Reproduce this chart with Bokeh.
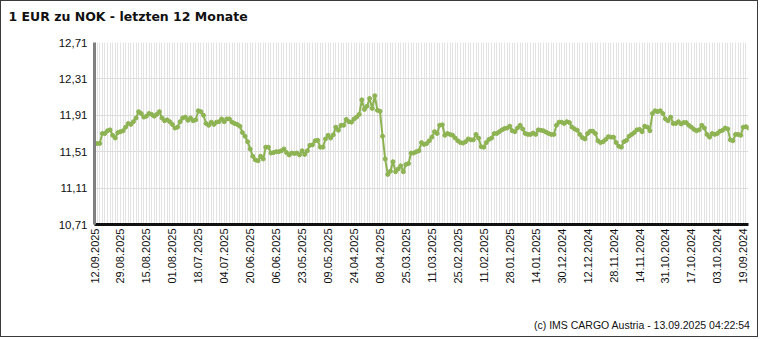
from bokeh.plotting import figure
from bokeh.models import Range1d, FixedTicker, Title, ColumnDataSource
from bokeh.embed import file_html
from bokeh.resources import INLINE
import math

title_text = "1 EUR zu NOK - letzten 12 Monate"
footer_text = "(c) IMS CARGO Austria - 13.09.2025 04:22:54"

date_labels = ["12.09.2025", "29.08.2025", "15.08.2025", "01.08.2025", "18.07.2025",
               "04.07.2025", "20.06.2025", "06.06.2025", "23.05.2025", "09.05.2025",
               "24.04.2025", "08.04.2025", "25.03.2025", "11.03.2025", "25.02.2025",
               "11.02.2025", "28.01.2025", "14.01.2025", "30.12.2024", "12.12.2024",
               "28.11.2024", "14.11.2024", "31.10.2024", "17.10.2024", "03.10.2024",
               "19.09.2024"]
label_step = 10

y_ticks = [10.71, 11.11, 11.51, 11.91, 12.31, 12.71]
y_tick_labels = ["10,71", "11,11", "11,51", "11,91", "12,31", "12,71"]

rates = [
    11.60, 11.60, 11.60, 11.71, 11.71, 11.74, 11.75, 11.69, 11.66, 11.72,
    11.73, 11.74, 11.78, 11.82, 11.81, 11.84, 11.88, 11.95, 11.93, 11.89,
    11.90, 11.93, 11.92, 11.90, 11.92, 11.95, 11.88, 11.85, 11.86, 11.84,
    11.81, 11.77, 11.78, 11.84, 11.88, 11.89, 11.855, 11.88, 11.85, 11.86,
    11.96, 11.95, 11.91, 11.82, 11.80, 11.835, 11.81, 11.835, 11.84, 11.87,
    11.84, 11.87, 11.87, 11.835, 11.82, 11.81, 11.79, 11.72, 11.68, 11.62,
    11.54, 11.46, 11.42, 11.41, 11.46, 11.43, 11.56, 11.56, 11.495, 11.50,
    11.51, 11.51, 11.52, 11.54, 11.50, 11.475, 11.495, 11.49, 11.495, 11.475,
    11.52, 11.48, 11.52, 11.58, 11.585, 11.63, 11.635, 11.56, 11.56, 11.65,
    11.69, 11.66, 11.695, 11.78, 11.745, 11.80, 11.80, 11.865, 11.84, 11.835,
    11.87, 11.89, 11.92, 12.08, 11.975, 12.01, 12.095, 11.985, 12.125, 11.965,
    11.955, 11.68, 11.43, 11.26, 11.295, 11.40, 11.29, 11.32, 11.355, 11.29,
    11.37, 11.38, 11.495, 11.495, 11.51, 11.52, 11.61, 11.59, 11.60, 11.63,
    11.67, 11.73, 11.71, 11.80, 11.805, 11.69, 11.71, 11.70, 11.69, 11.66,
    11.63, 11.61, 11.605, 11.62, 11.65, 11.64, 11.64, 11.70, 11.66, 11.565,
    11.56, 11.61, 11.645, 11.66, 11.71, 11.71, 11.73, 11.75, 11.765, 11.77,
    11.79, 11.74, 11.73, 11.77, 11.80, 11.76, 11.71, 11.70, 11.70, 11.715,
    11.70, 11.75, 11.745, 11.74, 11.725, 11.71, 11.70, 11.70, 11.80, 11.835,
    11.835, 11.82, 11.84, 11.83, 11.78, 11.76, 11.745, 11.70, 11.665, 11.65,
    11.71, 11.735, 11.735, 11.71, 11.63, 11.61, 11.62, 11.645, 11.675, 11.67,
    11.67, 11.61, 11.57, 11.56, 11.62, 11.635, 11.68, 11.70, 11.72, 11.75,
    11.755, 11.73, 11.79, 11.78, 11.74, 11.93, 11.96, 11.95, 11.96, 11.93,
    11.87, 11.85, 11.89, 11.82, 11.82, 11.84, 11.815, 11.83, 11.83, 11.80,
    11.78, 11.755, 11.74, 11.75, 11.80, 11.77, 11.70, 11.67, 11.71, 11.70,
    11.71, 11.735, 11.745, 11.77, 11.76, 11.64, 11.63, 11.70, 11.70, 11.69,
    11.78, 11.785, 11.77,
]

idx = list(range(len(rates)))
src = ColumnDataSource(dict(x=idx, y=rates))

W, H = 758, 337
p = figure(width=W, height=H, output_backend="svg", toolbar_location=None,
           x_range=Range1d(0, len(rates) - 1), y_range=Range1d(y_ticks[0], y_ticks[-1]),
           min_border_left=93, min_border_right=11, min_border_top=41, min_border_bottom=114,
           background_fill_color="white", border_fill_color="white",
           styles={"border": "1px solid #3a3a3a"})
p.outline_line_color = None

p.title.text = title_text
p.title.text_font = "DejaVu Sans"
p.title.text_font_style = "bold"
p.title.text_font_size = "12.5px"
p.title.text_color = "#111111"
p.title.align = "left"
p.title.offset = -86
p.title.standoff = 4

# invisible spacers that push title / footer to their places
p.add_layout(Title(text=" ", text_font_size="1px", standoff=14), "above")
p.add_layout(Title(text=" ", text_font_size="1px", standoff=26), "below")
p.add_layout(Title(text=footer_text, align="right", text_font="Liberation Sans",
                   text_font_style="normal", text_font_size="10.5px", text_color="#111111",
                   standoff=2, offset=-2), "below")

# grids
p.xgrid.ticker = FixedTicker(ticks=idx)
p.xgrid.grid_line_color = "#e3e3e3"
p.xgrid.grid_line_width = 1
p.ygrid.ticker = FixedTicker(ticks=y_ticks)
p.ygrid.grid_line_color = "#dddddd"
p.ygrid.grid_line_width = 1

# x axis
xt = [i * label_step for i in range(len(date_labels))]
p.xaxis.ticker = FixedTicker(ticks=xt)
p.xaxis.major_label_overrides = {t: l for t, l in zip(xt, date_labels)}
p.xaxis.major_label_orientation = math.pi / 2
p.xaxis.axis_line_color = "#111111"
p.xaxis.axis_line_width = 3
p.xaxis.major_tick_line_color = None
p.xaxis.minor_tick_line_color = None
p.xaxis.major_tick_out = 0
p.xaxis.major_tick_in = 0
p.xaxis.major_label_standoff = 4
p.xaxis.major_label_text_font = "Liberation Sans"
p.xaxis.major_label_text_font_size = "11px"
p.xaxis.major_label_text_color = "#111111"

# y axis
p.yaxis.ticker = FixedTicker(ticks=y_ticks)
p.yaxis.major_label_overrides = {t: l for t, l in zip(y_ticks, y_tick_labels)}
p.yaxis.axis_line_color = "#808080"
p.yaxis.axis_line_width = 3
p.yaxis.major_tick_line_color = None
p.yaxis.minor_tick_line_color = None
p.yaxis.major_tick_out = 0
p.yaxis.major_tick_in = 0
p.yaxis.major_label_standoff = 7
p.yaxis.major_label_text_font = "Liberation Sans"
p.yaxis.major_label_text_font_size = "11.5px"
p.yaxis.major_label_text_color = "#111111"

green = "#8db352"
p.line("x", "y", source=src, line_color=green, line_width=2)
p.scatter("x", "y", source=src, size=4, color=green)

open("out.html", "w").write(file_html(p, INLINE))
